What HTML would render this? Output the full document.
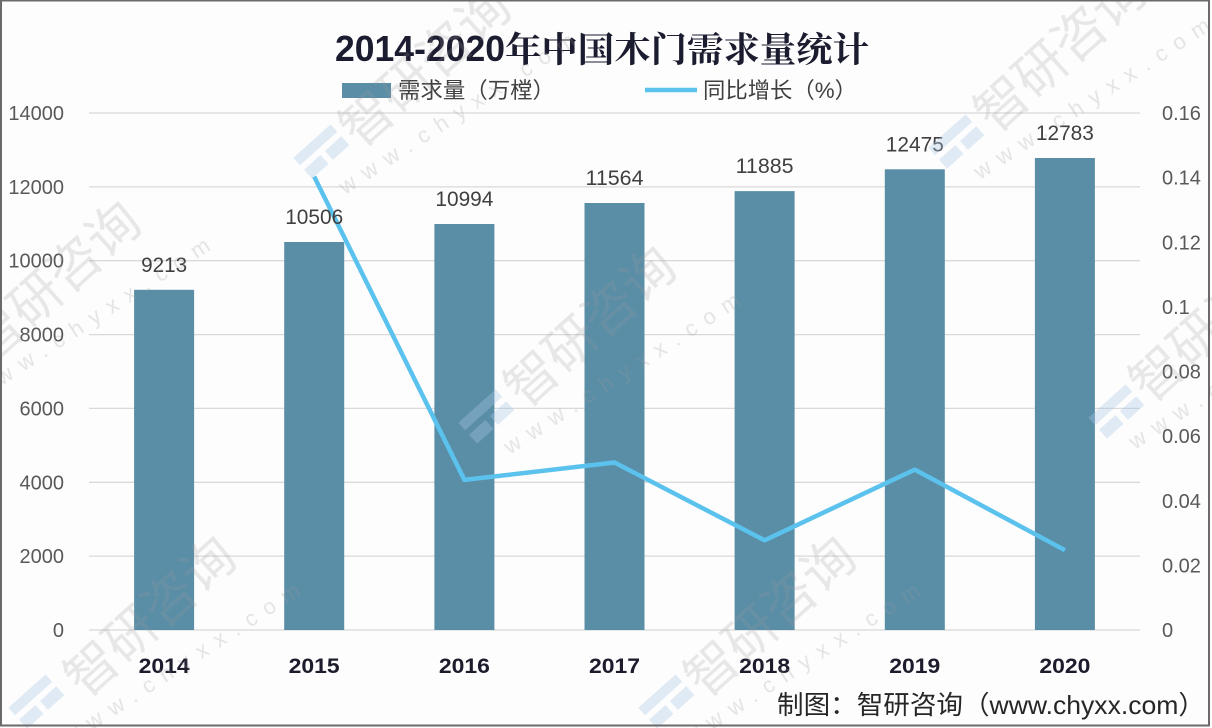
<!DOCTYPE html>
<html><head><meta charset="utf-8"><style>
html,body{margin:0;padding:0;background:#fff;}
svg{display:block;}
</style></head><body>
<svg width="1212" height="728" viewBox="0 0 1212 728" xmlns="http://www.w3.org/2000/svg">
<rect x="0" y="0" width="1212" height="728" fill="#fdfdfd"/>
<!-- gridlines -->
<g stroke="#d9d9d9" stroke-width="1.3">
<line x1="89" y1="113" x2="1140" y2="113"/>
<line x1="89" y1="186.9" x2="1140" y2="186.9"/>
<line x1="89" y1="260.7" x2="1140" y2="260.7"/>
<line x1="89" y1="334.6" x2="1140" y2="334.6"/>
<line x1="89" y1="408.4" x2="1140" y2="408.4"/>
<line x1="89" y1="482.3" x2="1140" y2="482.3"/>
<line x1="89" y1="556.1" x2="1140" y2="556.1"/>
<line x1="89" y1="630" x2="1140" y2="630"/>
</g>
<!-- bars -->
<g fill="#5a8ea7">
<rect x="134.1" y="289.8" width="60" height="340.2"/>
<rect x="284.2" y="242.0" width="60" height="388"/>
<rect x="434.4" y="224.0" width="60" height="406"/>
<rect x="584.5" y="203.0" width="60" height="427"/>
<rect x="734.6" y="191.1" width="60" height="438.9"/>
<rect x="884.8" y="169.3" width="60" height="460.7"/>
<rect x="1034.9" y="158.0" width="60" height="472"/>
</g>
<!-- line -->
<polyline points="314.2,176.6 464.4,479.9 614.5,462.5 764.6,540.3 914.8,469.6 1064.9,550.2" fill="none" stroke="#5bc2ee" stroke-width="4.5" stroke-linejoin="round" stroke-linecap="butt"/>
<!-- data labels -->
<g font-family="'Liberation Sans', sans-serif" font-size="21" fill="#404040" text-anchor="middle">
<text x="164.1" y="271.8" textLength="46" lengthAdjust="spacingAndGlyphs">9213</text>
<text x="314.2" y="224" textLength="58" lengthAdjust="spacingAndGlyphs">10506</text>
<text x="464.4" y="206" textLength="58" lengthAdjust="spacingAndGlyphs">10994</text>
<text x="614.5" y="185" textLength="58" lengthAdjust="spacingAndGlyphs">11564</text>
<text x="764.6" y="173.1" textLength="58" lengthAdjust="spacingAndGlyphs">11885</text>
<text x="914.8" y="151.3" textLength="58" lengthAdjust="spacingAndGlyphs">12475</text>
<text x="1064.9" y="140" textLength="58" lengthAdjust="spacingAndGlyphs">12783</text>
</g>
<!-- left axis -->
<g font-family="'Liberation Sans', sans-serif" font-size="20" fill="#595959" text-anchor="end">
<text x="64" y="120">14000</text>
<text x="64" y="193.9">12000</text>
<text x="64" y="267.7">10000</text>
<text x="64" y="341.6">8000</text>
<text x="64" y="415.4">6000</text>
<text x="64" y="489.3">4000</text>
<text x="64" y="563.1">2000</text>
<text x="64" y="637">0</text>
</g>
<!-- right axis -->
<g font-family="'Liberation Sans', sans-serif" font-size="20" fill="#595959" text-anchor="start">
<text x="1162" y="120">0.16</text>
<text x="1162" y="184.6">0.14</text>
<text x="1162" y="249.3">0.12</text>
<text x="1162" y="313.9">0.1</text>
<text x="1162" y="378.5">0.08</text>
<text x="1162" y="443.1">0.06</text>
<text x="1162" y="507.8">0.04</text>
<text x="1162" y="572.4">0.02</text>
<text x="1162" y="637">0</text>
</g>
<!-- x labels -->
<g font-family="'Liberation Sans', sans-serif" font-size="21" font-weight="bold" fill="#1c1c2c" text-anchor="middle">
<text x="164.1" y="673" textLength="51" lengthAdjust="spacingAndGlyphs">2014</text>
<text x="314.2" y="673" textLength="51" lengthAdjust="spacingAndGlyphs">2015</text>
<text x="464.4" y="673" textLength="51" lengthAdjust="spacingAndGlyphs">2016</text>
<text x="614.5" y="673" textLength="51" lengthAdjust="spacingAndGlyphs">2017</text>
<text x="764.6" y="673" textLength="51" lengthAdjust="spacingAndGlyphs">2018</text>
<text x="914.8" y="673" textLength="51" lengthAdjust="spacingAndGlyphs">2019</text>
<text x="1064.9" y="673" textLength="51" lengthAdjust="spacingAndGlyphs">2020</text>
</g>
<!-- title -->
<text x="335" y="61" font-family="'Liberation Sans', sans-serif" font-size="36" font-weight="bold" fill="#1c1c30" textLength="170" lengthAdjust="spacingAndGlyphs">2014-2020</text>
<text x="505" y="62" font-family="'Liberation Serif', 'Noto Serif CJK SC', serif" font-size="35" font-weight="bold" fill="#1c1c30" textLength="364" lengthAdjust="spacingAndGlyphs">年中国木门需求量统计</text>
<!-- legend -->
<rect x="342" y="83" width="49" height="15" fill="#5a8ea7"/>
<text x="398" y="98" font-family="'Liberation Sans', 'Noto Sans CJK SC', sans-serif" font-size="22" fill="#404040" textLength="157" lengthAdjust="spacingAndGlyphs">需求量（万樘）</text>
<line x1="645" y1="90" x2="697" y2="90" stroke="#5bc2ee" stroke-width="4.5"/>
<text x="703" y="98" font-family="'Liberation Sans', 'Noto Sans CJK SC', sans-serif" font-size="22" fill="#404040" textLength="154" lengthAdjust="spacingAndGlyphs">同比增长（%）</text>
<!-- footer -->
<text x="777" y="714" font-family="'Liberation Sans', 'Noto Sans CJK SC', sans-serif" font-size="26" fill="#262626" textLength="428" lengthAdjust="spacingAndGlyphs">制图：智研咨询（www.chyxx.com）</text>
<!-- watermarks -->
<g font-family="'Noto Sans CJK SC', sans-serif" font-size="52" fill="#9a9a9a" opacity="0.22">
<text transform="translate(360,150) rotate(-42)">智研咨询</text>
<text transform="translate(525,410) rotate(-42)">智研咨询</text>
<text transform="translate(995,135) rotate(-42)">智研咨询</text>
<text transform="translate(-10,365) rotate(-42)">智研咨询</text>
<text transform="translate(1150,405) rotate(-42)">智研咨询</text>
<text transform="translate(85,700) rotate(-42)">智研咨询</text>
<text transform="translate(705,700) rotate(-42)">智研咨询</text>
</g>
<g font-family="'Liberation Sans', sans-serif" font-size="22" fill="#9a9a9a" opacity="0.25" letter-spacing="10">
<text transform="translate(345,195) rotate(-33)">www.chyxx.com</text>
<text transform="translate(510,455) rotate(-33)">www.chyxx.com</text>
<text transform="translate(980,180) rotate(-33)">www.chyxx.com</text>
<text transform="translate(-20,400) rotate(-33)">www.chyxx.com</text>
<text transform="translate(1135,450) rotate(-33)">www.chyxx.com</text>
<text transform="translate(70,745) rotate(-33)">www.chyxx.com</text>
<text transform="translate(690,745) rotate(-33)">www.chyxx.com</text>
</g>
<g fill="#a9c6e6" opacity="0.35">
<g transform="translate(320,150) rotate(-42)"><rect x="-25" y="-12" width="50" height="10"/><rect x="-25" y="4" width="22" height="12"/><rect x="3" y="4" width="22" height="12"/></g>
<g transform="translate(485,415) rotate(-42)"><rect x="-25" y="-12" width="50" height="10"/><rect x="-25" y="4" width="22" height="12"/><rect x="3" y="4" width="22" height="12"/></g>
<g transform="translate(955,140) rotate(-42)"><rect x="-25" y="-12" width="50" height="10"/><rect x="-25" y="4" width="22" height="12"/><rect x="3" y="4" width="22" height="12"/></g>
<g transform="translate(1115,410) rotate(-42)"><rect x="-25" y="-12" width="50" height="10"/><rect x="-25" y="4" width="22" height="12"/><rect x="3" y="4" width="22" height="12"/></g>
<g transform="translate(35,700) rotate(-42)"><rect x="-25" y="-12" width="50" height="10"/><rect x="-25" y="4" width="22" height="12"/><rect x="3" y="4" width="22" height="12"/></g>
<g transform="translate(665,700) rotate(-42)"><rect x="-25" y="-12" width="50" height="10"/><rect x="-25" y="4" width="22" height="12"/><rect x="3" y="4" width="22" height="12"/></g>
</g>
<!-- border -->
<rect x="1" y="0.5" width="1208" height="725" fill="none" stroke="#6a6a6a" stroke-width="2"/>
</svg>
</body></html>
